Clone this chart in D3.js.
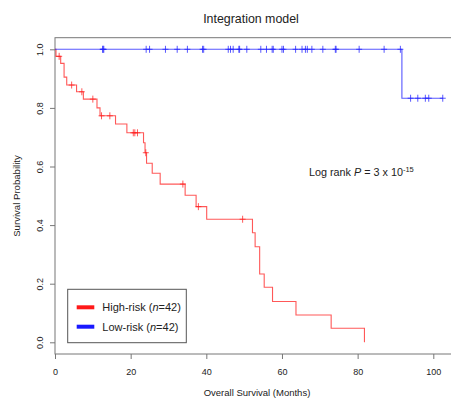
<!DOCTYPE html>
<html>
<head>
<meta charset="utf-8">
<script src="https://cdn.jsdelivr.net/npm/d3@7"></script>
<style>
  html, body { margin: 0; padding: 0; background: #fff; }
  svg { display: block; font-family: "Liberation Sans", Arial, Helvetica, sans-serif; }
</style>
</head>
<body>
<svg id="chart" width="451" height="398"></svg>
<script>
// ---- Data ----
const xTicks = [0, 20, 40, 60, 80, 100];
const yTicks = [0.0, 0.2, 0.4, 0.6, 0.8, 1.0];

// High-risk group: event times (months) and survival after each event
const highEventTimes = [0.26, 1.5, 2.4, 3.1, 5.7, 7.5, 11.1, 11.9, 16.0, 19.0, 23.4, 23.8, 24.2, 25.7, 27.8, 34.4, 37.3, 40.1, 52.2, 52.9, 54.1, 55.3, 57.5, 63.7, 73.0, 81.8];
const highSurv       = [0.976, 0.952, 0.905, 0.878, 0.855, 0.830, 0.800, 0.773, 0.745, 0.715, 0.681, 0.647, 0.611, 0.577, 0.540, 0.502, 0.463, 0.420, 0.374, 0.326, 0.233, 0.188, 0.139, 0.093, 0.048, 0.0];
const highCensor     = [1.1, 4.4, 7.1, 10.0, 12.3, 14.5, 20.7, 21.1, 21.8, 24.0, 33.8, 37.9, 49.6];

// Low-risk group
const lowEventTimes = [91.7];
const lowSurv       = [0.833];
const lowCensor     = [12.6, 12.7, 12.9, 24.1, 25.0, 29.2, 32.3, 35.0, 39.0, 39.3, 45.8, 46.4, 47.1, 48.6, 48.8, 50.7,
                       54.4, 55.9, 57.4, 57.7, 60.0, 60.4, 63.6, 65.3, 66.2, 66.7, 67.9, 70.8, 74.1, 74.3, 80.4, 87.0, 91.3,
                       94.0, 95.9, 97.9, 98.8, 102.5];

const legendLabels = ["High-risk", "Low-risk"];
const legendN = [42, 42];

// ---- Layout ----
const svg = d3.select("#chart");
const box = { left: 55, top: 37.7, right: 455, bottom: 354 };
const x = d3.scaleLinear().domain([0, 100]).range([55, 433.3]);
const y = d3.scaleLinear().domain([0, 1]).range([342.3, 49.3]);

const grey = "#777";
const textCol = "#222";

// Box
svg.append("rect")
  .attr("x", box.left).attr("y", box.top)
  .attr("width", box.right - box.left).attr("height", box.bottom - box.top)
  .attr("fill", "none").attr("stroke", grey).attr("stroke-width", 1);

// X axis
const gx = svg.append("g")
  .attr("transform", `translate(0,${box.bottom})`)
  .call(d3.axisBottom(x).tickValues(xTicks).tickSize(5).tickFormat(d3.format("d")));
gx.select(".domain").remove();
gx.selectAll(".tick line").attr("stroke", grey);
gx.selectAll(".tick text")
  .attr("y", 21).attr("dy", 0)
  .attr("fill", textCol).style("font-size", "9px")
  .style("font-family", "'Liberation Sans', Arial, sans-serif");

// Y axis
const gy = svg.append("g")
  .attr("transform", `translate(${box.left},0)`)
  .call(d3.axisLeft(y).tickValues(yTicks).tickSize(5).tickFormat(d3.format(".1f")));
gy.select(".domain").remove();
gy.selectAll(".tick line").attr("stroke", grey);
gy.selectAll(".tick text")
  .attr("transform", "rotate(-90)")
  .attr("x", 0).attr("y", -12.5).attr("dy", 0)
  .attr("text-anchor", "middle")
  .attr("fill", textCol).style("font-size", "9px")
  .style("font-family", "'Liberation Sans', Arial, sans-serif");

// Title & labels
svg.append("text").attr("x", 251).attr("y", 22.5).attr("text-anchor", "middle")
  .attr("fill", textCol).style("font-size", "12.4px").text("Integration model");
svg.append("text").attr("x", 257).attr("y", 395.5).attr("text-anchor", "middle")
  .attr("fill", textCol).style("font-size", "9.5px").text("Overall Survival (Months)");
svg.append("text").attr("transform", "translate(20,196) rotate(-90)").attr("text-anchor", "middle")
  .attr("fill", textCol).style("font-size", "9.6px").text("Survival Probability");

// Curves
function stepLevel(times, surv, t) {
  let v = 1;
  for (let i = 0; i < times.length; i++) { if (times[i] <= t) v = surv[i]; }
  return v;
}
function drawCurve(times, surv, censor, color) {
  const pts = [[0, 1]];
  times.forEach((t, i) => pts.push([t, surv[i]]));
  const lastC = d3.max(censor);
  const lastT = d3.max(times);
  if (lastC > lastT) pts.push([lastC, surv[surv.length - 1]]);
  const line = d3.line().x(d => x(d[0])).y(d => y(d[1])).curve(d3.curveStepAfter);
  const g = svg.append("g");
  g.append("path").attr("d", line(pts)).attr("fill", "none")
    .attr("stroke", color).attr("stroke-width", 1.1).attr("stroke-opacity", 0.75);
  censor.forEach(c => {
    const cx = x(c), cy = y(stepLevel(times, surv, c));
    g.append("line").attr("x1", cx).attr("x2", cx).attr("y1", cy - 3.5).attr("y2", cy + 3.5)
      .attr("stroke", color).attr("stroke-width", 1).attr("stroke-opacity", 0.75);
    g.append("line").attr("x1", cx - 3).attr("x2", cx + 3).attr("y1", cy).attr("y2", cy)
      .attr("stroke", color).attr("stroke-width", 1).attr("stroke-opacity", 0.75);
  });
}
drawCurve(highEventTimes, highSurv, highCensor, "#ff2020");
drawCurve(lowEventTimes, lowSurv, lowCensor, "#2020ff");

// Log-rank annotation
const lr = svg.append("text").attr("x", 309).attr("y", 176).attr("fill", textCol).style("font-size", "10.8px");
lr.append("tspan").text("Log rank ");
lr.append("tspan").style("font-style", "italic").text("P");
lr.append("tspan").text(" = 3 x 10");
lr.append("tspan").attr("dy", -4).style("font-size", "7.5px").text("-15");

// Legend
svg.append("rect").attr("x", 67.7).attr("y", 289.3).attr("width", 118.6).attr("height", 53.4)
  .attr("fill", "#fff").attr("stroke", "#555").attr("stroke-width", 1);
const legColors = ["#ff0000", "#0000ff"];
const legY = [307.3, 326.7];
legendLabels.forEach((lab, i) => {
  svg.append("line").attr("x1", 76.7).attr("x2", 94.3).attr("y1", legY[i]).attr("y2", legY[i])
    .attr("stroke", legColors[i]).attr("stroke-width", 4).attr("stroke-opacity", 0.9);
  const t = svg.append("text").attr("x", 102.3).attr("y", legY[i] + 4).attr("fill", textCol).style("font-size", "11px");
  t.append("tspan").text(lab + " (");
  t.append("tspan").style("font-style", "italic").text("n");
  t.append("tspan").text("=" + legendN[i] + ")");
});
</script>
</body>
</html>
